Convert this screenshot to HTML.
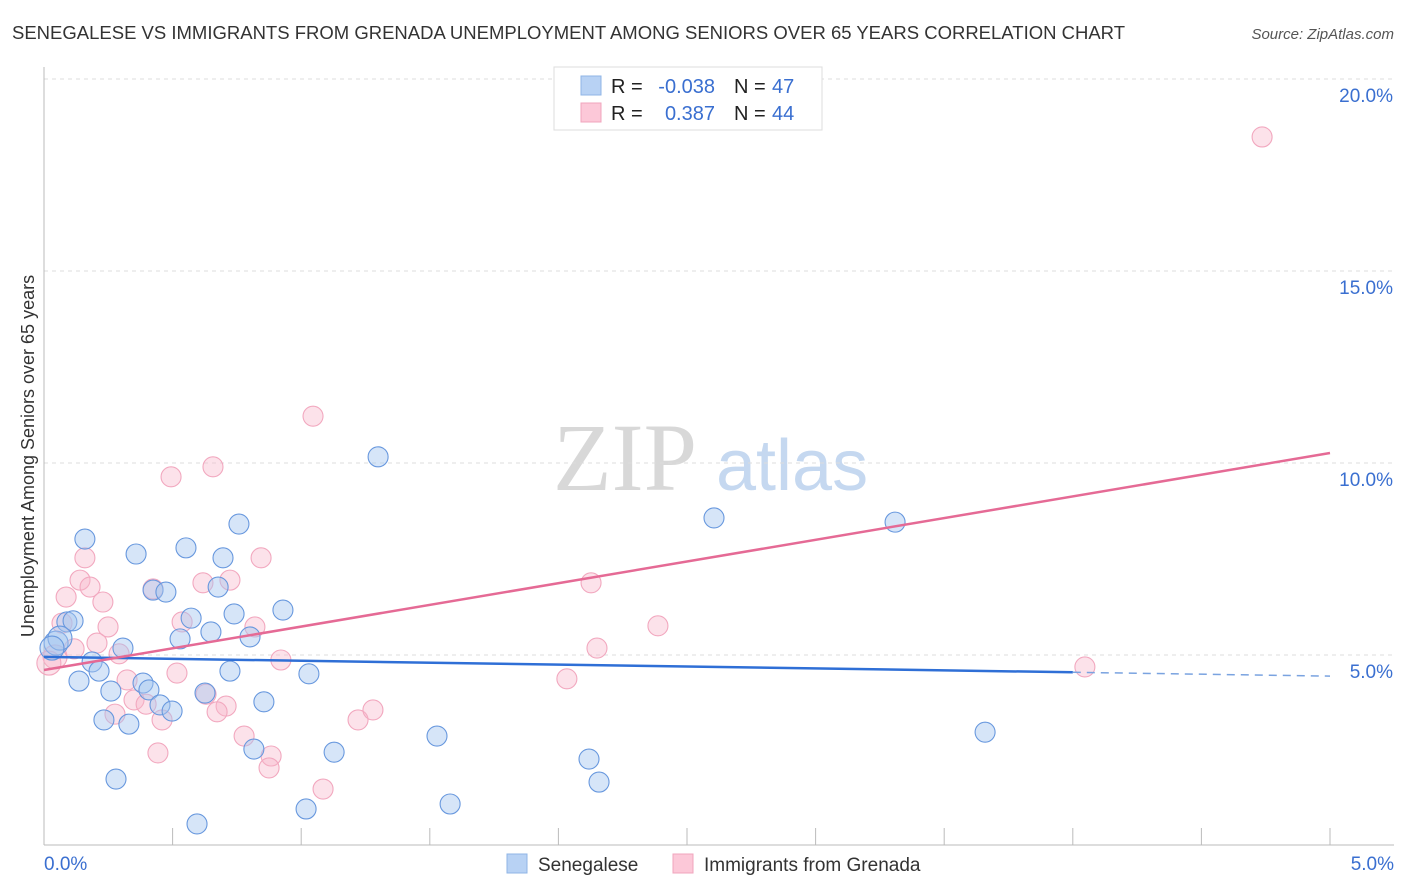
<!DOCTYPE html>
<html><head><meta charset="utf-8"><style>
body{margin:0;background:#fff;font-family:"Liberation Sans",sans-serif;}
svg{display:block}
</style></head><body>
<svg id="chart" width="1406" height="892" xmlns="http://www.w3.org/2000/svg" font-family="Liberation Sans, sans-serif">
<text x="12" y="39" font-size="18" fill="#333" textLength="1113" lengthAdjust="spacingAndGlyphs">SENEGALESE VS IMMIGRANTS FROM GRENADA UNEMPLOYMENT AMONG SENIORS OVER 65 YEARS CORRELATION CHART</text>
<text x="1394" y="39" font-size="15" fill="#555" font-style="italic" text-anchor="end">Source: ZipAtlas.com</text>
<text transform="translate(34,456) rotate(-90)" font-size="18" fill="#333" text-anchor="middle">Unemployment Among Seniors over 65 years</text>
<g>
<text x="553" y="490" font-size="96" font-family="Liberation Serif, serif" fill="#d8d8d8">ZIP</text>
<text x="716" y="490" font-size="72" fill="#c5d8f0">atlas</text>
</g>
<g id="grid"></g>
<g id="axes"></g>
<g id="marks"></g>
<g id="trends"></g>
<g>
<rect x="554" y="67" width="268" height="63" fill="#fff" stroke="#ddd"/>
<rect x="581" y="76" width="20" height="19" fill="#b8d2f4" stroke="#8fb4e6"/>
<rect x="581" y="103" width="20" height="19" fill="#fcc8d8" stroke="#f0a5bd"/>
<text x="611" y="93" font-size="20" fill="#222">R =</text>
<text x="715" y="93" font-size="20" fill="#3a6fd0" text-anchor="end">-0.038</text>
<text x="734" y="93" font-size="20" fill="#222">N =</text>
<text x="772" y="93" font-size="20" fill="#3a6fd0">47</text>
<text x="611" y="120" font-size="20" fill="#222">R =</text>
<text x="715" y="120" font-size="20" fill="#3a6fd0" text-anchor="end">0.387</text>
<text x="734" y="120" font-size="20" fill="#222">N =</text>
<text x="772" y="120" font-size="20" fill="#3a6fd0">44</text>
</g>
<g>
<rect x="507" y="854" width="20" height="19" fill="#b8d2f4" stroke="#8fb4e6"/>
<text x="538" y="871" font-size="19" fill="#333">Senegalese</text>
<rect x="673" y="854" width="20" height="19" fill="#fcc8d8" stroke="#f0a5bd"/>
<text x="704" y="871" font-size="19" fill="#333">Immigrants from Grenada</text>
</g>
</svg>
<script>
const xTickLabels=["0.0%","5.0%"];
const yTicks=[5,10,15,20];
const yTickLabels=["5.0%","10.0%","15.0%","20.0%"];
const blueX=[0.159,0.358,0.552,0.696,0.758,0.424,0.474,0.677,0.089,0.113,0.572,0.739,0.929,0.529,0.649,0.801,0.307,0.047,0.062,0.187,0.214,0.723,1.030,0.136,0.260,0.385,0.408,0.451,0.498,0.626,0.855,0.233,0.330,0.816,1.128,1.299,2.605,3.309,1.528,2.119,2.158,1.579,1.019,0.595,0.280,3.659,0.031];
const blueY=[8.02,7.63,7.79,7.53,8.41,6.69,6.64,6.77,5.86,5.89,5.96,6.07,6.17,5.42,5.60,5.47,5.18,5.31,5.44,4.82,4.58,4.58,4.51,4.32,4.06,4.27,4.09,3.70,3.54,4.01,3.78,3.31,3.20,2.55,2.47,10.16,8.57,8.46,2.89,2.29,1.69,1.12,0.99,0.60,1.77,2.99,5.18];
const pinkX=[4.736,1.046,0.494,0.657,0.159,0.140,0.179,0.086,0.229,0.424,0.618,0.723,0.844,2.127,2.387,2.150,0.537,0.249,0.206,0.292,0.070,0.043,0.117,0.820,0.921,0.517,0.323,0.630,0.350,0.397,0.708,0.673,0.276,0.459,1.221,1.279,2.033,0.778,0.883,0.875,0.443,1.085,4.047,0.019];
const pinkY=[18.49,11.22,9.64,9.90,7.53,6.95,6.77,6.51,6.38,6.72,6.88,6.95,7.53,6.88,5.76,5.18,5.86,5.73,5.31,5.03,5.83,4.95,5.16,5.73,4.87,4.53,4.35,3.98,3.83,3.72,3.67,3.52,3.46,3.31,3.31,3.57,4.38,2.89,2.37,2.06,2.45,1.51,4.69,4.79];
const blueTrend=[4.95,4.45];
const pinkTrend=[4.61,10.26];
const blueSolidEnd=4.0;

const NS="http://www.w3.org/2000/svg";
const X0=44,X1=1330,Y0=847;
function sx(v){return X0+(X1-X0)*v/5;}
function sy(v){return Y0-v*38.4;}
function mk(tag,attrs,parent){const e=document.createElementNS(NS,tag);for(const k in attrs)e.setAttribute(k,attrs[k]);parent.appendChild(e);return e;}
const grid=document.getElementById('grid'),axes=document.getElementById('axes'),marks=document.getElementById('marks'),trends=document.getElementById('trends');
yTicks.forEach((t,i)=>{
  const l=mk('line',{x1:44,x2:1394,y1:sy(t),y2:sy(t),stroke:'#ddd','stroke-dasharray':'4,4'},grid);
  
  
  const tx=mk('text',{x:1393,y:sy(t)+23,'font-size':19,fill:'#3a6fd0','text-anchor':'end'},axes);
  tx.textContent=yTickLabels[i];
  
  
});
const ya=mk('line',{x1:44,x2:44,y1:67,y2:845,stroke:'#bbb'},axes);


const xa=mk('line',{x1:44,x2:1394,y1:845,y2:845,stroke:'#bbb'},axes);


for(let i=1;i<=10;i++){
  const t=mk('line',{x1:sx(i*0.5),x2:sx(i*0.5),y1:828,y2:845,stroke:'#bbb'},axes);
  
  
}
[[0,'start',44],[5,'end',1394]].forEach((d,i)=>{
  const tx=mk('text',{x:d[2],y:870,'font-size':19,fill:'#3a6fd0','text-anchor':d[1]},axes);
  tx.textContent=xTickLabels[i];
  
  
});
function pts(xs,ys,fill,stroke,name){
  xs.forEach((x,i)=>{
    const c=mk('circle',{cx:sx(x),cy:sy(ys[i]),r:(x<0.07?12:10),fill:fill,stroke:stroke,'stroke-width':1.1},marks);
    
    
  });
}
pts(pinkX,pinkY,'rgba(248,182,202,0.4)','#f2a8bf','grenada-point');
pts(blueX,blueY,'rgba(165,198,240,0.45)','#6898de','senegalese-point');
const bm=blueTrend[0]+(blueTrend[1]-blueTrend[0])*blueSolidEnd/5;
const b1=mk('line',{x1:sx(0),y1:sy(blueTrend[0]),x2:sx(blueSolidEnd),y2:sy(bm),stroke:'#2f6fd6','stroke-width':2.5},trends);


const b2=mk('line',{x1:sx(blueSolidEnd),y1:sy(bm),x2:sx(5),y2:sy(blueTrend[1]),stroke:'#7aa3e0','stroke-width':1.5,'stroke-dasharray':'8,6'},trends);


const p1=mk('line',{x1:sx(0),y1:sy(pinkTrend[0]),x2:sx(5),y2:sy(pinkTrend[1]),stroke:'#e56a95','stroke-width':2.5},trends);


</script>
</body></html>
